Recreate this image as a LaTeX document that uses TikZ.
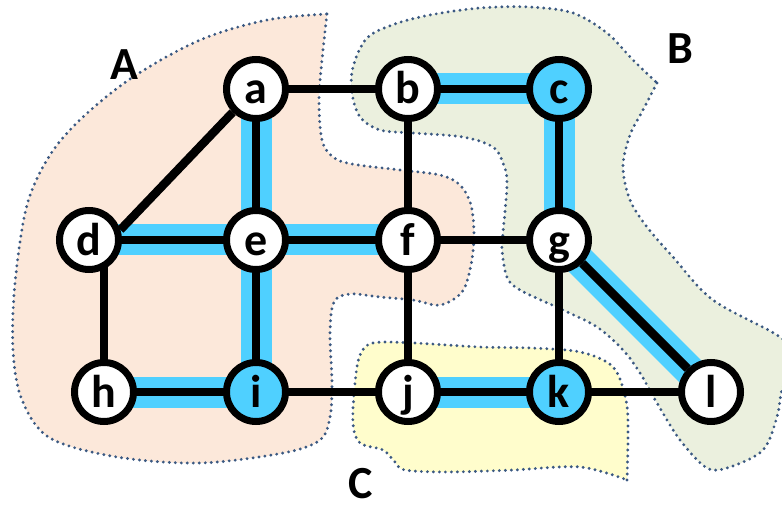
\documentclass[tikz,border=0pt]{standalone}
\usepackage{fontspec}
\setmainfont{Carlito}
\pgfdeclarelayer{regions}
\pgfdeclarelayer{edges}
\pgfsetlayers{regions,edges,main}
\definecolor{peach}{RGB}{252,232,218}
\definecolor{sage}{RGB}{235,240,222}
\definecolor{cream}{RGB}{255,253,204}
\definecolor{sky}{RGB}{79,208,255}
\definecolor{dotBlue}{RGB}{59,89,130}
\begin{document}
\begin{tikzpicture}[x=1pt,y=-1pt]
\tikzstyle{vertex}=[circle,draw=black,line width=7pt,fill=white,minimum size=59pt,inner sep=0pt,font=\bfseries\fontsize{46}{46}\selectfont,text height=32pt,text depth=2pt]
\tikzstyle{hitVertex}=[vertex,fill=sky];
\tikzstyle{link}=[line width=8.5pt,black];
\tikzstyle{band}=[line width=31pt,sky];
\tikzstyle{area}=[draw=dotBlue,line width=3.2pt,dash pattern=on 0pt off 6pt,line cap=round];
\tikzstyle{areaLabel}=[font=\bfseries\fontsize{46}{46}\selectfont];
\useasboundingbox (0,0) rectangle (782,505);

%Region Marks
\node[areaLabel] (labelA) at (124,65)  {A};
\node[areaLabel] (labelB) at (680,49)  {B};
\node[areaLabel] (labelC) at (361,484) {C};

%top row
\node[vertex]    (a) at (256,89) {a};
\node[vertex]    (b) at (408,89) {b};
\node[hitVertex] (c) at (559,89) {c};

%middle row
\node[vertex] (d) at (89,240)  {d};
\node[vertex] (e) at (256,240) {e};
\node[vertex] (f) at (408,240) {f};
\node[vertex] (g) at (559,240) {g};

%bottom row
\node[vertex]    (h) at (104,392) {h};
\node[hitVertex] (i) at (256,392) {i};
\node[vertex]    (j) at (408,392) {j};
\node[hitVertex] (k) at (559,392) {k};
\node[vertex]    (l) at (711,392) {l};

%regions
\begin{pgfonlayer}{regions}
\draw[area,fill=peach] plot[smooth,tension=0.55] coordinates {(327,14) (322,60) (319,100) (322,140) (333,157) (352,164) (400,170) (440,175) (460,185) (471,205) (474,235) (471,265) (462,292) (440,305) (413,300) (380,297) (350,294) (334,302) (330,333) (332,383) (330,417) (320,440) (283,453) (200,463) (117,457) (50,438) (22,400) (13,350) (15,283) (27,205) (50,155) (83,117) (133,77) (200,40) (267,20) (327,14)} -- cycle;
\draw[area,fill=sage] plot[smooth,tension=0.55] coordinates {(657,83) (643,110) (630,135) (623,167) (630,200) (647,227) (673,257) (713,300) (780,337) (795,360) (782,390) (777,417) (763,450) (730,467) (707,468) (680,440) (657,403) (640,373) (623,350) (597,327) (563,310) (520,290) (507,277) (502,250) (503,233) (507,183) (503,163) (493,147) (463,137) (413,133) (380,130) (360,117) (352,93) (353,67) (367,38) (395,24) (430,15) (480,8) (530,7) (573,13) (607,33) (633,60) (657,83)} -- cycle;
\draw[area,fill=cream] plot[smooth,tension=0.55] coordinates {(627,480) (628,433) (626,400) (613,367) (580,352) (530,348) (480,347) (413,343) (373,343) (360,355) (355,383) (353,423) (360,443) (383,450) (395,462) (405,470) (447,472) (513,470) (580,467) (627,480)} -- cycle;
\end{pgfonlayer}

% highlighted path
\begin{pgfonlayer}{edges}
\draw[band] (b.center) -- (c.center);
\draw[band] (c.center) -- (g.center);
\draw[band] (g.center) -- (l.center);
\draw[band] (a.center) -- (e.center);
\draw[band] (d.center) -- (e.center);
\draw[band] (e.center) -- (f.center);
\draw[band] (e.center) -- (i.center);
\draw[band] (h.center) -- (i.center);
\draw[band] (j.center) -- (k.center);

% connections
\draw[link] (a) -- (b);
\draw[link] (b) -- (c);
\draw[link] (a) -- (e);
\draw[link] (a.225) -- (d.18);
\draw[link] (b) -- (f);
\draw[link] (c) -- (g);
\draw[link] (d) -- (e);
\draw[link] (e) -- (f);
\draw[link] (f) -- (g);
\draw[link] (h.center) -- (h.center |- d.center);
\draw[link] (e) -- (i);
\draw[link] (f) -- (j);
\draw[link] (g) -- (k);
\draw[link] (g) -- (l);
\draw[link] (h) -- (i);
\draw[link] (i) -- (j);
\draw[link] (j) -- (k);
\draw[link] (k) -- (l);
\end{pgfonlayer}

\end{tikzpicture}
\end{document}
